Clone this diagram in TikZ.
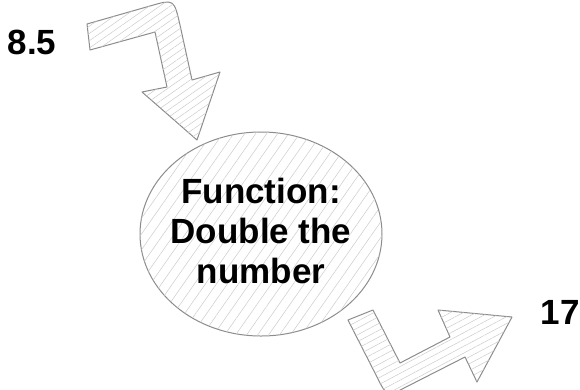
\documentclass[tikz,border=0pt]{standalone}
\usepackage{fontspec}
\setmainfont{Liberation Sans}
\usetikzlibrary{patterns.meta,shapes.geometric}
\begin{document}
\begin{tikzpicture}[x=1pt,y=-1pt,
  sketch/.style 2 args={draw=black!45, line width=1pt, line join=round, fill=white,
    postaction={pattern={Lines[angle=#1,distance=#2,line width=0.5pt]},pattern color=black!20}},
  bigtext/.style={font=\fontsize{35}{40}\selectfont\bfseries, text=black, inner sep=0pt, align=center}]
\useasboundingbox (0,0) rectangle (580,389);
% input arrow
\draw[sketch={35}{6pt}] (87,24) -- (90,50) -- (155,32) -- (167,87) -- (142,92) -- (197,140)
  -- (220,72) -- (192,80) -- (180,25) .. controls (174,-1) .. (150,6) -- cycle;
% function ellipse
\node[sketch={55}{9pt}, ellipse, minimum width=242pt, minimum height=204pt, inner sep=0pt] (fn) at (261,234) {};
\node[bigtext] (fntext) at (261,231) {Function:\\Double the\\number};
% output arrow
\draw[sketch={28}{6pt}] (348,320) -- (373,310) -- (400,363) -- (450,337) -- (438,310) -- (512,317)
  -- (477,382) -- (465,357) -- (406,387) .. controls (387,397) .. (377,377) -- cycle;
% labels
\node[bigtext] (in) at (32,42) {8.5};
\node[bigtext] (out) at (560,312) {17};
\end{tikzpicture}
\end{document}
